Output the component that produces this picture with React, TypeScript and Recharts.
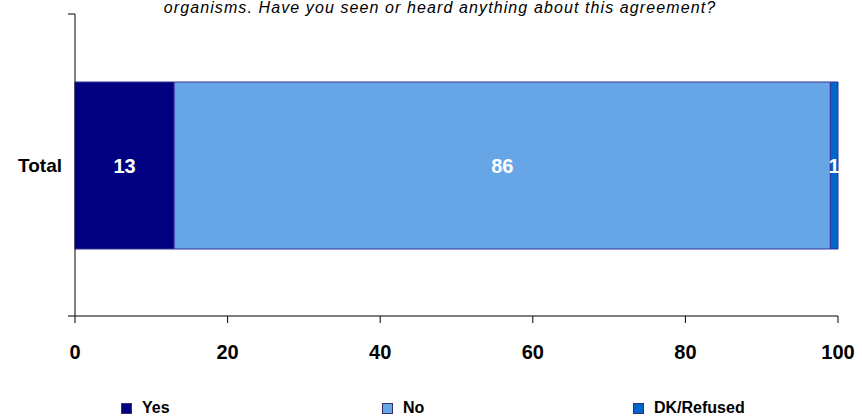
import React from "react";
import { BarChart, Bar, XAxis, YAxis, LabelList, Legend } from "recharts";

const categories = ["Total"];
const yesValues = [13];
const noValues = [86];
const dkValues = [1];
const xTicks = [0, 20, 40, 60, 80, 100];
const titleText = "organisms. Have you seen or heard anything about this agreement?";

const seriesInfo = [
  { key: "yes", name: "Yes", color: "#000080" },
  { key: "no", name: "No", color: "#66A6E6" },
  { key: "dk", name: "DK/Refused", color: "#0066CC" },
];

const data = categories.map((c, i) => ({
  name: c,
  yes: yesValues[i],
  no: noValues[i],
  dk: dkValues[i],
}));

const font = "Arial, 'Liberation Sans', sans-serif";

const CategoryTick = (props: any) => {
  const { x, y, payload } = props;
  const off = payload && typeof payload.offset === "number" ? payload.offset : 0;
  return (
    <g>
      <text
        x={x}
        y={y}
        dy="0.36em"
        textAnchor="end"
        fill="#000"
        style={{ fontSize: 19, fontWeight: "bold", fontFamily: font }}
      >
        {payload.value}
      </text>
      {off > 0 && (
        <>
          <line x1={x + 6} x2={x + 13} y1={y - off} y2={y - off} stroke="#000" />
          <line x1={x + 6} x2={x + 13} y1={y + off} y2={y + off} stroke="#000" />
        </>
      )}
    </g>
  );
};

const LegendContent = () => {
  const xs = [121, 382, 633];
  return (
    <div style={{ position: "relative", width: 862, height: 24 }}>
      {seriesInfo.map((s, i) => (
        <div
          key={s.key}
          style={{
            position: "absolute",
            left: xs[i],
            top: 5,
            display: "flex",
            alignItems: "center",
            fontFamily: font,
            fontWeight: "bold",
            fontSize: 16,
            lineHeight: "18px",
            color: "#000",
          }}
        >
          <span
            style={{
              display: "inline-block",
              width: 9,
              height: 9,
              background: s.color,
              border: "1px solid #333366",
              marginRight: 10,
            }}
          />
          {s.name}
        </div>
      ))}
    </div>
  );
};

export default function App() {
  return (
    <div style={{ position: "absolute", left: 0, top: 0, width: 862, height: 418, background: "#fff" }}>
      <div
        style={{
          position: "absolute",
          left: 0,
          width: 880,
          top: 0,
          textAlign: "center",
          fontFamily: font,
          fontStyle: "italic",
          fontSize: 16,
          lineHeight: "15px",
          letterSpacing: 1.1,
          color: "#000",
          whiteSpace: "nowrap",
        }}
      >
        {titleText}
      </div>
      <BarChart
        width={862}
        height={418}
        data={data}
        layout="vertical"
        margin={{ top: 14, right: 24, bottom: 0, left: 0 }}
        barSize={167}
      >
        <XAxis
          type="number"
          domain={[0, 100]}
          ticks={xTicks}
          height={78}
          axisLine={{ stroke: "#000" }}
          tickLine={{ stroke: "#000" }}
          tickSize={7}
          tickMargin={22}
          tick={{ fill: "#000", fontSize: 20, fontWeight: "bold", fontFamily: font }}
          interval={0}
        />
        <YAxis
          type="category"
          dataKey="name"
          width={75}
          axisLine={{ stroke: "#000" }}
          tickLine={false}
          tickSize={7}
          tickMargin={6}
          tick={<CategoryTick />}
        />
        <Legend verticalAlign="bottom" height={24} content={<LegendContent />} />
        {seriesInfo.map((s) => (
          <Bar
            key={s.key}
            dataKey={s.key}
            name={s.name}
            stackId="a"
            fill={s.color}
            stroke="#333399"
            strokeWidth={1}
            isAnimationActive={false}
          >
            <LabelList
              dataKey={s.key}
              position="center"
              fill="#fff"
              style={{ fontSize: 20, fontWeight: "bold", fontFamily: font }}
            />
          </Bar>
        ))}
      </BarChart>
    </div>
  );
}
